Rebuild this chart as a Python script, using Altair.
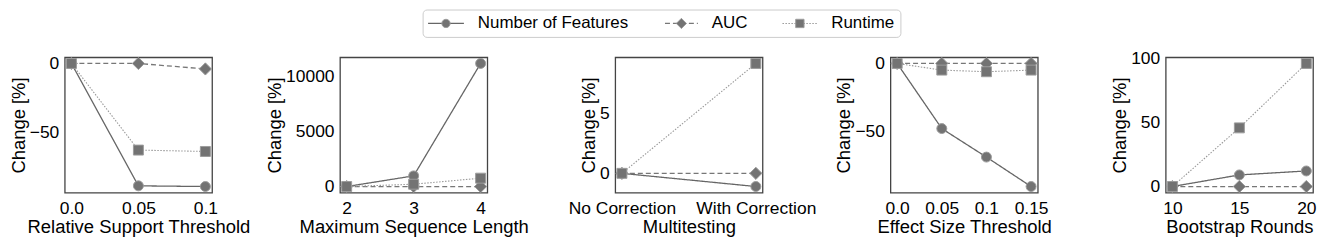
import altair as alt
import pandas as pd

SERIES = ["Number of Features", "AUC", "Runtime"]

# Panel 1: Relative Support Threshold
p1_x = ["0.0", "0.05", "0.1"]
p1_feat = [0, -89, -89.5]
p1_auc = [0, 0, -4]
p1_run = [0, -63, -64]
p1_ticks = [-50, 0]

# Panel 2: Maximum Sequence Length
p2_x = ["2", "3", "4"]
p2_feat = [0, 970, 11200]
p2_auc = [0, 0, 0]
p2_run = [0, 210, 760]
p2_ticks = [0, 5000, 10000]

# Panel 3: Multitesting
p3_x = ["No Correction", "With Correction"]
p3_feat = [0, -1.1]
p3_auc = [0, 0]
p3_run = [0, 9.17]
p3_ticks = [0, 5]

# Panel 4: Effect Size Threshold
p4_x = ["0.0", "0.05", "0.1", "0.15"]
p4_feat = [0, -48, -69, -90.7]
p4_auc = [0, 0, 0, 0]
p4_run = [0, -4.9, -6.1, -4.9]
p4_ticks = [-50, 0]

# Panel 5: Bootstrap Rounds
p5_x = ["10", "15", "20"]
p5_feat = [0, 9.1, 12.2]
p5_auc = [0, 0, 0]
p5_run = [0, 46, 96.5]
p5_ticks = [0, 50, 100]

PANELS = [
    ("Relative Support Threshold", p1_x, p1_feat, p1_auc, p1_run, p1_ticks),
    ("Maximum Sequence Length", p2_x, p2_feat, p2_auc, p2_run, p2_ticks),
    ("Multitesting", p3_x, p3_feat, p3_auc, p3_run, p3_ticks),
    ("Effect Size Threshold", p4_x, p4_feat, p4_auc, p4_run, p4_ticks),
    ("Bootstrap Rounds", p5_x, p5_feat, p5_auc, p5_run, p5_ticks),
]

STYLE = {
    "Number of Features": dict(shape="circle", dash=[1, 0], lc="#666666", lw=1.3, size=100),
    "AUC": dict(shape="diamond", dash=[5, 3], lc="#777777", lw=1.3, size=150),
    "Runtime": dict(shape="square", dash=[1.5, 1.5], lc="#9a9a9a", lw=1.1, size=100),
}
MFILL = "#737373"
MSTROKE = "#9c9c9c"
FONT = "Liberation Sans"

W, H = 148, 136
GAP = 128.5


def panel(title, xs, feat, auc, run, ticks):
    rows = []
    for s, vals in zip(SERIES, [feat, auc, run]):
        for i, (x, v) in enumerate(zip(xs, vals)):
            rows.append(dict(series=s, x=x, order=i, y=v))
    df = pd.DataFrame(rows)
    allv = feat + auc + run
    lo, hi = min(allv), max(allv)
    pad = 0.05 * (hi - lo)
    xenc = alt.X(
        "x:N", sort=xs,
        scale=alt.Scale(type="point", padding=0.05 * (len(xs) - 1)),
        axis=alt.Axis(title=title, labelAngle=0),
    )
    yenc = alt.Y(
        "y:Q",
        scale=alt.Scale(domain=[lo - pad, hi + pad], nice=False, zero=False),
        axis=alt.Axis(title="Change [%]", values=ticks, format="d"),
    )
    base = alt.Chart(df)
    layers = []
    for s in SERIES:
        st = STYLE[s]
        sub = base.transform_filter(alt.datum.series == s)
        layers.append(
            sub.mark_line(clip=True, color=st["lc"], strokeDash=st["dash"], strokeWidth=st["lw"])
            .encode(x=xenc, y=yenc, order="order:Q")
        )
        layers.append(
            sub.mark_point(clip=True, shape=st["shape"], filled=True, fill=MFILL, stroke=MSTROKE,
                           strokeWidth=1, size=st["size"], opacity=1)
            .encode(x=xenc, y=yenc)
        )
    return alt.layer(*layers).properties(width=W, height=H)


panels = [panel(*p) for p in PANELS]

# Manual legend (decoration) drawn above the panels
legend_df = pd.DataFrame({"series": SERIES})
LY = 13
DX = 3
leg_layers = [
    alt.Chart(legend_df.head(1)).mark_rect(fill="white", stroke="#cccccc", strokeWidth=1, cornerRadius=4)
    .encode(x=alt.value(357 + DX), x2=alt.value(837 + DX), y=alt.value(-0.5), y2=alt.value(27))
]
handle_pos = {
    "Number of Features": (362, 398, 380, 412),
    "AUC": (600, 633, 616.5, 647),
    "Runtime": (718, 753, 735.5, 767),
}
for s in SERIES:
    st = STYLE[s]
    a, b, c, d = handle_pos[s]
    one = alt.Chart(legend_df).transform_filter(alt.datum.series == s)
    leg_layers.append(
        one.mark_rule(color=st["lc"], strokeDash=st["dash"], strokeWidth=st["lw"])
        .encode(x=alt.value(a + DX), x2=alt.value(b + DX), y=alt.value(LY))
    )
    leg_layers.append(
        one.mark_point(shape=st["shape"], filled=True, fill=MFILL, stroke=MSTROKE, strokeWidth=1,
                       size=st["size"] * 0.7, opacity=1)
        .encode(x=alt.value(c + DX), y=alt.value(LY))
    )
    leg_layers.append(
        one.mark_text(align="left", baseline="middle", font=FONT, fontSize=17, color="#000000")
        .encode(x=alt.value(d + DX), y=alt.value(LY), text="series:N")
    )
legend = alt.layer(*leg_layers).properties(
    width=5 * W + 4 * GAP, height=27, view=alt.ViewBackground(stroke="transparent")
)

row = alt.hconcat(*panels, spacing=GAP, bounds="flush")

chart = (
    alt.vconcat(legend, row, spacing=10)
    .properties(padding=0)
    .configure(font=FONT)
    .configure_view(stroke="#444444", strokeWidth=1.3)
    .configure_axis(
        labelFont=FONT, titleFont=FONT, labelFontSize=17.5, titleFontSize=18.5,
        titleFontWeight="normal", labelColor="#000000", titleColor="#000000",
        grid=False, domain=False, ticks=False, tickSize=0,
    )
    .configure_axisX(labelPadding=7, titlePadding=1)
    .configure_axisY(labelPadding=6, titlePadding=1)
)

chart.save("out.html", embed_options={"renderer": "svg", "actions": False})
